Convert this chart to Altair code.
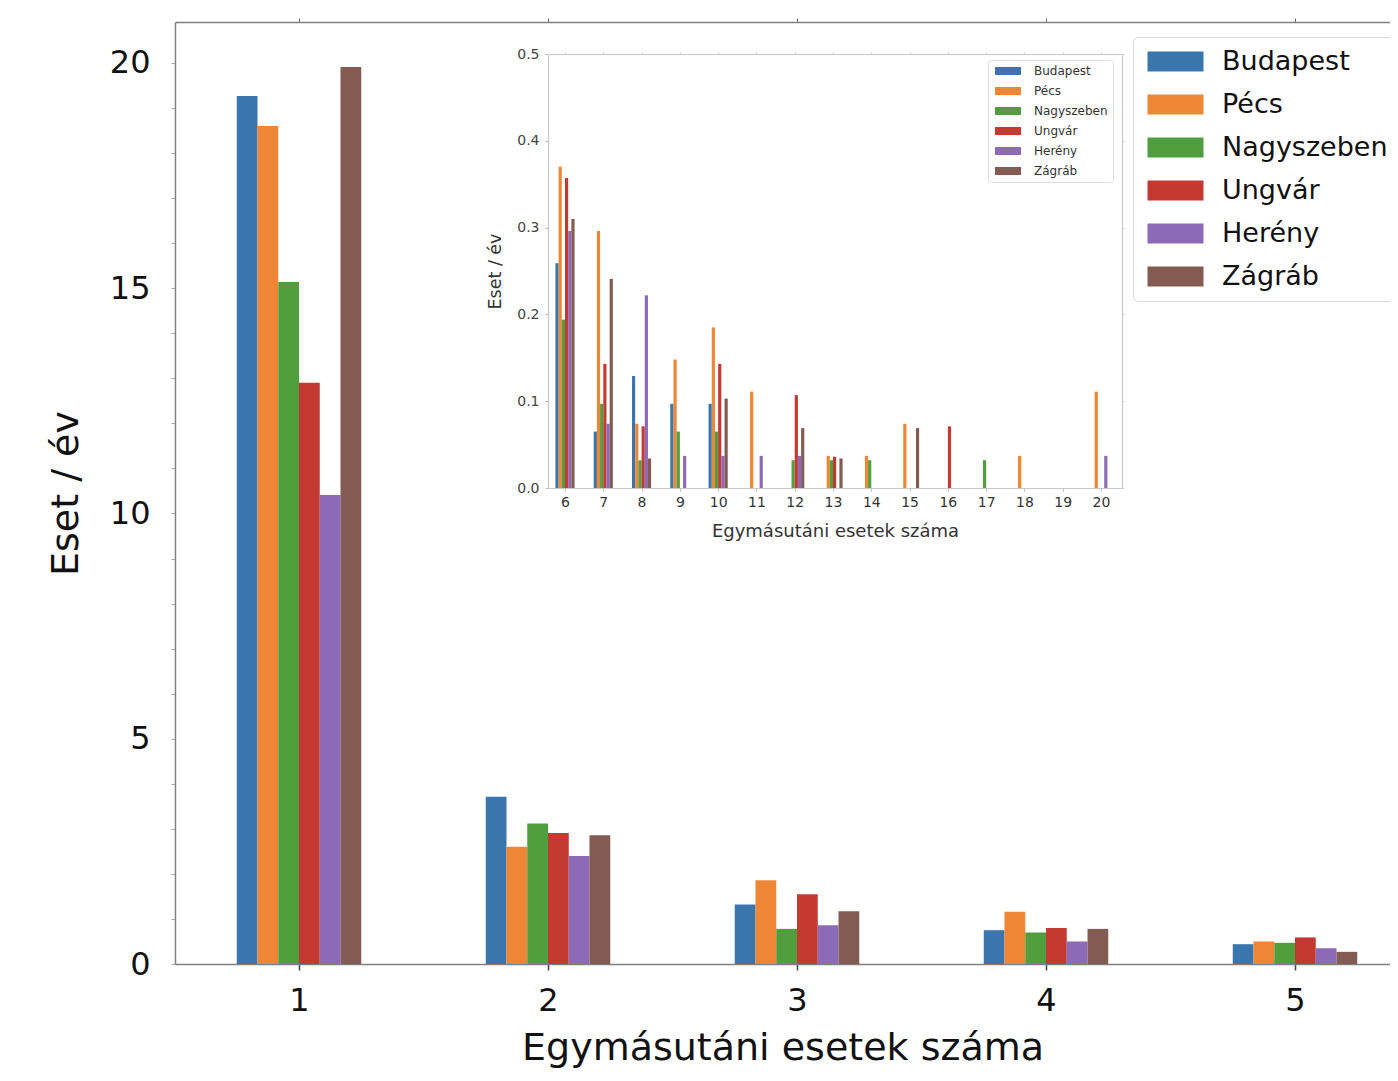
import altair as alt
import pandas as pd

FONT = "DejaVu Sans"

cities = ["Budapest", "Pécs", "Nagyszeben", "Ungvár", "Herény", "Zágráb"]
colors = ["#3a75ae", "#ef8636", "#519e3e", "#c43a32", "#8d6ab8", "#845b53"]

# main chart: number of consecutive cases 1..5
main_cats = [1, 2, 3, 4, 5]
main_budapest = [19.27, 3.71, 1.32, 0.75, 0.44]
main_pecs = [18.60, 2.60, 1.86, 1.16, 0.50]
main_nagyszeben = [15.14, 3.12, 0.78, 0.70, 0.47]
main_ungvar = [12.90, 2.91, 1.55, 0.80, 0.59]
main_hereny = [10.41, 2.40, 0.86, 0.50, 0.35]
main_zagrab = [19.91, 2.86, 1.17, 0.78, 0.27]

# inset: number of consecutive cases 6..20
inset_cats = list(range(6, 21))
inset_budapest = [0.259, 0.065, 0.129, 0.097, 0.097, 0, 0, 0, 0, 0, 0, 0, 0, 0, 0]
inset_pecs = [0.370, 0.296, 0.074, 0.148, 0.185, 0.111, 0, 0.037, 0.037, 0.074, 0, 0, 0.037, 0, 0.111]
inset_nagyszeben = [0.194, 0.097, 0.032, 0.065, 0.065, 0, 0.032, 0.032, 0.032, 0, 0, 0.032, 0, 0, 0]
inset_ungvar = [0.357, 0.143, 0.071, 0, 0.143, 0, 0.107, 0.036, 0, 0, 0.071, 0, 0, 0, 0]
inset_hereny = [0.296, 0.074, 0.222, 0.037, 0.037, 0.037, 0.037, 0, 0, 0, 0, 0, 0, 0, 0.037]
inset_zagrab = [0.310, 0.241, 0.034, 0, 0.103, 0, 0.069, 0.034, 0, 0.069, 0, 0, 0, 0, 0]

main_series = [main_budapest, main_pecs, main_nagyszeben, main_ungvar, main_hereny, main_zagrab]
inset_series = [inset_budapest, inset_pecs, inset_nagyszeben, inset_ungvar, inset_hereny, inset_zagrab]

BARW = 1.0 / 12.0


def long_table(cats, series):
    rows = []
    for i, (city, vals) in enumerate(zip(cities, series)):
        for k, v in zip(cats, vals):
            if v > 0:
                rows.append(dict(city=city, cat=k, value=v, base=0.0,
                                 x0=k + (i - 3) * BARW, x1=k + (i - 2) * BARW))
    return pd.DataFrame(rows)


main_df = long_table(main_cats, main_series)
inset_df = long_table(inset_cats, inset_series)

W = 1215
MAIN_X = [0.502, 0.502 + W / 249.0]
MAIN_Y = [0, 20.91]
INSET_X = [5.556, 20.548]
INSET_Y = [0, 0.5]
INSET_XR = [373, 947]
INSET_YR = [466, 32]

main = alt.Chart(main_df).mark_bar().encode(
    x=alt.X("x0:Q", scale=alt.Scale(domain=MAIN_X, nice=False, zero=False),
            axis=alt.Axis(orient="bottom", values=main_cats, title="Egymásutáni esetek száma",
                          labelFontSize=32, labelPadding=15, labelColor="#111",
                          tickSize=6, tickColor="#444", tickWidth=1.5,
                          domainColor="#808080", domainWidth=1.5,
                          titleFontSize=38, titleFontWeight="normal", titlePadding=13,
                          titleColor="#111")),
    x2="x1:Q",
    y=alt.Y("value:Q", stack=False, scale=alt.Scale(domain=MAIN_Y, nice=False),
            axis=alt.Axis(orient="left", values=list(range(21)),
                          labelExpr="datum.value % 5 === 0 ? datum.label : ''",
                          labelFontSize=32, labelPadding=21, labelColor="#111",
                          tickSize=4, tickColor="#aaaaaa",
                          domainColor="#808080", domainWidth=1.5,
                          title="Eset / év", titleFontSize=38, titleFontWeight="normal",
                          titlePadding=24, titleColor="#111")),
    y2="base:Q",
    color=alt.Color("city:N", scale=alt.Scale(domain=cities, range=colors),
                    legend=alt.Legend(orient="none", legendX=958, legendY=15, title=None,
                                      symbolType="M-1,-1H4.6V1H-1Z", symbolSize=400,
                                      symbolStrokeWidth=0, symbolOpacity=1,
                                      labelFontSize=27, labelOffset=51, rowPadding=15,
                                      padding=11, fillColor="white", strokeColor="#d9d9d9",
                                      cornerRadius=5, labelColor="#111", labelLimit=0)),
)

top_frame = alt.Chart(main_df).mark_rule(opacity=0).encode(
    x=alt.X("cat:Q", scale=alt.Scale(domain=MAIN_X, nice=False, zero=False),
            axis=alt.Axis(orient="top", values=main_cats, labels=False, title="",
                          tickSize=4, tickColor="#666", domainColor="#808080",
                          domainWidth=1.5)),
)

inset = alt.Chart(inset_df).mark_bar().encode(
    x=alt.X("x0:Q", scale=alt.Scale(domain=INSET_X, range=INSET_XR, nice=False, zero=False),
            axis=alt.Axis(orient="bottom", offset=-476, values=inset_cats,
                          title="Egymásutáni esetek száma",
                          labelFontSize=14, labelColor="#333", labelPadding=4,
                          tickSize=3, tickColor="#bbbbbb", domainColor="#c8c8c8",
                          domainWidth=1.2, titleFontSize=18, titleFontWeight="normal",
                          titleColor="#333", titlePadding=13)),
    x2="x1:Q",
    y=alt.Y("value:Q", stack=False,
            scale=alt.Scale(domain=INSET_Y, range=INSET_YR, nice=False),
            axis=alt.Axis(orient="left", offset=-373, values=[0, 0.1, 0.2, 0.3, 0.4, 0.5],
                          format=".1f", labelFontSize=14, labelColor="#444",
                          labelPadding=6, tickSize=3, tickColor="#bbbbbb",
                          domainColor="#c8c8c8", domainWidth=1.2,
                          title="Eset / év", titleFontSize=17.5, titleFontWeight="normal",
                          titleColor="#333", titlePadding=12)),
    y2="base:Q",
    color=alt.Color("city:N", scale=alt.Scale(domain=cities, range=colors),
                    legend=alt.Legend(orient="none", legendX=813, legendY=38, title=None,
                                      symbolType="M-1,-1H5.5V1H-1Z", symbolSize=64,
                                      symbolStrokeWidth=0, symbolOpacity=1,
                                      labelFontSize=12, labelOffset=29, rowPadding=8,
                                      padding=5, fillColor="white", strokeColor="#dddddd",
                                      cornerRadius=3, labelColor="#333", labelLimit=0)),
)

inset_frame = alt.Chart(inset_df).mark_point(opacity=0).encode(
    x=alt.X("cat:Q", scale=alt.Scale(domain=INSET_X, range=INSET_XR, nice=False, zero=False),
            axis=alt.Axis(orient="top", offset=-32, values=inset_cats, labels=False, title="",
                          tickSize=2, tickColor="#cccccc", domainColor="#c8c8c8",
                          domainWidth=1.2)),
    y=alt.Y("value:Q", scale=alt.Scale(domain=INSET_Y, range=INSET_YR, nice=False),
            axis=alt.Axis(orient="right", offset=947 - W, values=[0, 0.1, 0.2, 0.3, 0.4, 0.5],
                          labels=False, title="", tickSize=2, tickColor="#cccccc",
                          domainColor="#c8c8c8", domainWidth=1.2)),
)

chart = alt.layer(main, top_frame, inset, inset_frame).resolve_scale(
    x="independent", y="independent", color="independent"
).properties(
    width=W, height=942,
    autosize=alt.AutoSizeParams(type="none"),
    padding={"left": 167, "top": 14, "right": 0, "bottom": 104},
).configure_view(stroke=None).configure_axis(
    grid=False, labelFont=FONT, titleFont=FONT
).configure_legend(labelFont=FONT)

chart.save("out.html", embed_options={"renderer": "svg", "actions": False})
